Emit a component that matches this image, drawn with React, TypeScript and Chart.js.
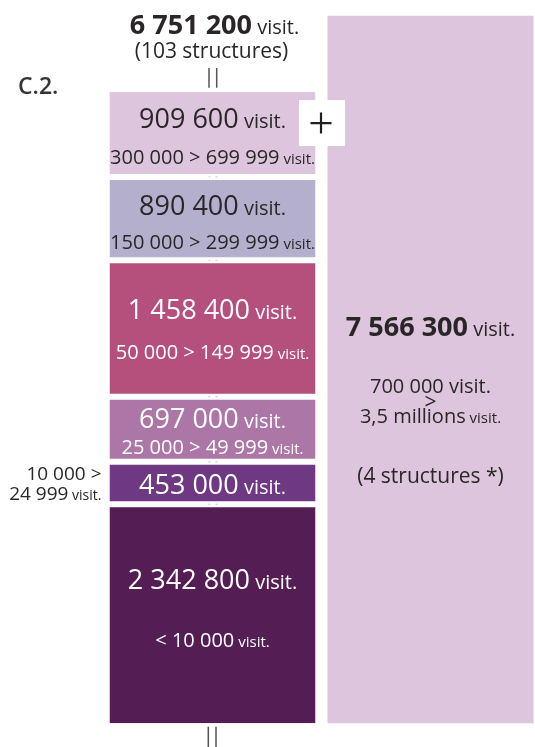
import React, { useEffect, useRef } from "react";
import { Chart, registerables } from "chart.js";

Chart.register(...registerables);

// ---------- data ----------
const categories = ["6 751 200 visit. (103 structures)", "7 566 300 visit. (4 structures *)"];
const segmentValues = [2342800, 453000, 697000, 1458400, 890400, 909600];
const segmentRanges = [
  "< 10 000",
  "10 000 > 24 999",
  "25 000 > 49 999",
  "50 000 > 149 999",
  "150 000 > 299 999",
  "300 000 > 699 999",
];
const largeValues = [7566300];
const largeRangeLines = ["700 000 visit.", ">", "3,5 millions"];
const leftStructures = "(103 structures)";
const rightStructures = "(4 structures *)";
const chartTag = "C.2.";
const unit = "visit.";

// ---------- styles ----------
const segmentColors = ["#541e54", "#6e3982", "#ac77a7", "#b5507d", "#b5afce", "#ddc5dd"];
const segmentTextColors = ["#ffffff", "#ffffff", "#ffffff", "#ffffff", "#2a2627", "#2a2627"];
const largeColor = "#ddc5dd";
const DARK = "#2a2627";
const GAP = 3;
// label baseline offsets relative to each segment's visible centre
const mainOffsets = [-26.3, 10.6, -1.7, -9.9, -4.1, -5.4];
const subOffsets = [32, null, 25, 30.8, 29.9, 31.3];

const FONT = '"Open Sans", "DejaVu Sans", sans-serif';
const font = (size: number, weight = "400") => `${weight} ${size}px ${FONT}`;
const fmt = (v: number) => String(v).replace(/\B(?=(\d{3})+(?!\d))/g, " ");
const total = segmentValues.reduce((a, b) => a + b, 0);

type Part = { t: string; size: number; weight?: string };

function drawParts(ctx: CanvasRenderingContext2D, parts: Part[], x: number, y: number, color: string, align: "center" | "left" | "right" = "center") {
  const widths = parts.map((p) => {
    ctx.font = font(p.size, p.weight);
    return ctx.measureText(p.t).width;
  });
  const tw = widths.reduce((a, b) => a + b, 0);
  let cx = align === "center" ? x - tw / 2 : align === "right" ? x - tw : x;
  ctx.fillStyle = color;
  ctx.textAlign = "left";
  ctx.textBaseline = "alphabetic";
  parts.forEach((p, i) => {
    ctx.font = font(p.size, p.weight);
    ctx.fillText(p.t, cx, y);
    cx += widths[i];
  });
}

const labelPlugin = {
  id: "segmentLabels",
  afterDatasetsDraw(chart: any) {
    const ctx: CanvasRenderingContext2D = chart.ctx;
    const n = segmentValues.length;
    const els = segmentValues.map((_, i) => chart.getDatasetMeta(i).data[0]);
    const rightEl = chart.getDatasetMeta(n).data[1];
    const chartTop = chart.chartArea.top;
    ctx.save();

    const cx = els[0].x;
    const barLeft = cx - els[0].width / 2;
    const barRight = cx + els[0].width / 2;
    const barTop = els[n - 1].y;
    const barBottom = els[0].base;

    // segment labels
    const centers: number[] = [];
    els.forEach((el: any, i: number) => {
      const top = el.y + (i === n - 1 ? 0 : GAP);
      const bottom = el.base - (i === 0 ? 0 : GAP);
      const c = (top + bottom) / 2;
      centers.push(c);
      const col = segmentTextColors[i];
      drawParts(ctx, [{ t: fmt(segmentValues[i]), size: 27 }, { t: " " + unit, size: 20 }], cx, c + mainOffsets[i], col);
      const so = subOffsets[i];
      if (so !== null) {
        drawParts(ctx, [{ t: segmentRanges[i], size: 20 }, { t: " " + unit, size: 15 }], cx, c + so, col);
      } else {
        const [a, b] = segmentRanges[i].split("> ");
        drawParts(ctx, [{ t: a + ">", size: 19 }], barLeft - 8, c - 2.7, DARK, "right");
        drawParts(ctx, [{ t: b, size: 19 }, { t: " " + unit, size: 14 }], barLeft - 8, c + 16.6, DARK, "right");
      }
    });

    // dotted connectors in the gaps
    ctx.fillStyle = "#c4c4c4";
    for (let i = 0; i < n - 1; i++) {
      const gy = els[i].y;
      ctx.fillRect(cx - 4, gy - 0.5, 2, 1);
      ctx.fillRect(cx + 3, gy - 0.5, 2, 1);
    }

    // top totals
    drawParts(ctx, [{ t: fmt(total), size: 27, weight: "700" }, { t: " " + unit, size: 20 }], cx + 2, chartTop + 18.6, DARK);
    drawParts(ctx, [{ t: leftStructures, size: 21 }], cx - 1, chartTop + 42.3, DARK);

    // || connectors
    ctx.strokeStyle = "#555555";
    ctx.lineWidth = 1.5;
    ctx.beginPath();
    ctx.moveTo(cx - 3.5, chartTop + 52.4);
    ctx.lineTo(cx - 3.5, barTop - 4.3);
    ctx.moveTo(cx + 4.2, chartTop + 52.4);
    ctx.lineTo(cx + 4.2, barTop - 4.3);
    ctx.moveTo(cx - 4.2, barBottom + 3.4);
    ctx.lineTo(cx - 4.2, barBottom + 24);
    ctx.moveTo(cx + 3.5, barBottom + 3.4);
    ctx.lineTo(cx + 3.5, barBottom + 24);
    ctx.stroke();

    // tag
    drawParts(ctx, [{ t: chartTag, size: 23, weight: "600" }], 18, 94, "#353535", "left");

    // "+" box
    const plusCy = centers[n - 1] + mainOffsets[n - 1] - 4.5;
    const bx = barRight - 16.5;
    ctx.fillStyle = "#ffffff";
    ctx.fillRect(bx, plusCy - 23, 46, 46);
    ctx.strokeStyle = "#231f20";
    ctx.lineWidth = 2.2;
    ctx.beginPath();
    ctx.moveTo(bx + 11.5, plusCy);
    ctx.lineTo(bx + 32.5, plusCy);
    ctx.moveTo(bx + 22, plusCy - 10.5);
    ctx.lineTo(bx + 22, plusCy + 10.5);
    ctx.stroke();

    // right bar labels
    const rx = rightEl.x;
    const rc = (rightEl.y + rightEl.base) / 2;
    drawParts(ctx, [{ t: fmt(largeValues[0]), size: 27, weight: "700" }, { t: " " + unit, size: 20 }], rx, rc - 33.5, DARK);
    drawParts(ctx, [{ t: largeRangeLines[0], size: 20 }], rx, rc + 23.8, DARK);
    drawParts(ctx, [{ t: largeRangeLines[1], size: 21 }], rx, rc + 39.5, DARK);
    drawParts(ctx, [{ t: largeRangeLines[2], size: 20 }, { t: " " + unit, size: 15 }], rx, rc + 53.8, DARK);
    drawParts(ctx, [{ t: rightStructures, size: 21 }], rx, rc + 113.8, DARK);

    ctx.restore();
  },
};

export default function App() {
  const ref = useRef<HTMLCanvasElement | null>(null);
  useEffect(() => {
    if (!ref.current) return;
    const n = segmentValues.length;
    const datasets: any[] = segmentValues.map((v, i) => ({
      label: segmentRanges[i],
      data: [v, null],
      backgroundColor: segmentColors[i],
      borderColor: "#ffffff",
      borderWidth: { top: i === n - 1 ? 0 : GAP, bottom: i === 0 ? 0 : GAP, left: 0, right: 0 },
      borderSkipped: false,
      stack: "s",
      clip: false,
    }));
    datasets.push({
      label: "700 000 > 3,5 millions",
      data: [null, largeValues[0]],
      backgroundColor: largeColor,
      borderWidth: 0,
      stack: "s",
      clip: false,
    });
    const chart = new Chart(ref.current, {
      type: "bar",
      data: { labels: categories, datasets },
      options: {
        animation: false,
        responsive: false,
        devicePixelRatio: 1,
        layout: { padding: { left: 212.5, right: 104.5, top: 15.7, bottom: 23.7 } },
        datasets: { bar: { categoryPercentage: 1, barPercentage: 0.945 } },
        plugins: { legend: { display: false }, tooltip: { enabled: false }, title: { display: false } },
        scales: {
          x: { display: false, stacked: true, offset: false },
          y: { display: false, stacked: true, min: 0, max: largeValues[0] },
        },
      } as any,
      plugins: [labelPlugin],
    });
    return () => chart.destroy();
  }, []);
  return (
    <div style={{ position: "fixed", left: 0, top: 0, width: 535, height: 747, background: "#ffffff" }}>
      <canvas ref={ref} width={535} height={747} style={{ display: "block", width: 535, height: 747 }} />
    </div>
  );
}
